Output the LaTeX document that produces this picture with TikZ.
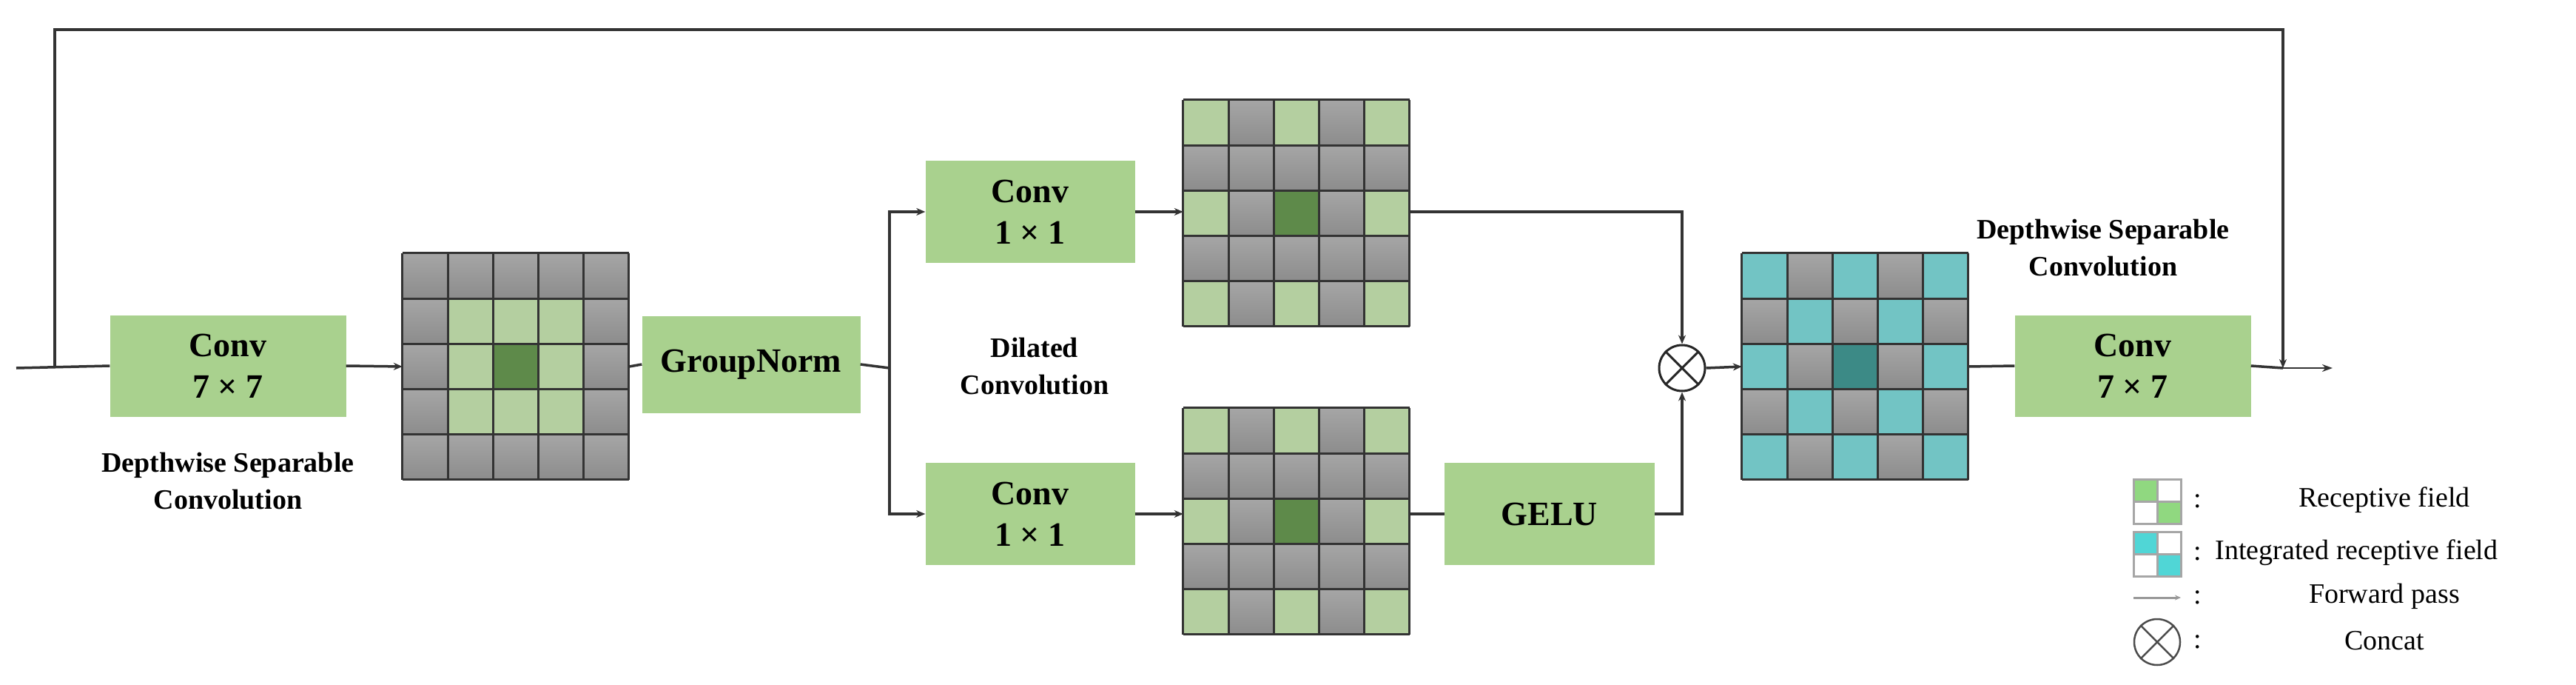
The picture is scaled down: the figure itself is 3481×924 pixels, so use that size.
\documentclass[tikz,border=0pt]{standalone}
\usepackage{fontspec}
\setmainfont{Liberation Serif}[BoldFont={Liberation Serif Bold},ItalicFont={Liberation Serif Italic}]
\usetikzlibrary{arrows.meta,calc}
\definecolor{boxgreen}{HTML}{A9D18E}
\definecolor{lgreen}{HTML}{B4CFA0}
\definecolor{dgreen}{HTML}{5E8A4A}
\definecolor{lteal}{HTML}{72C4C4}
\definecolor{dteal}{HTML}{3C8A86}
\tikzset{
  blk/.style={fill=boxgreen,draw=none,minimum width=#1,inner sep=0pt,font=\rmfamily\bfseries\fontsize{46}{56}\selectfont,align=center},
  lbl/.style={font=\rmfamily\bfseries\fontsize{38}{50}\selectfont,align=center},
  leg/.style={font=\rmfamily\fontsize{38}{46}\selectfont},
  ln/.style={line width=3.5pt,draw=black!80},
  arr/.style={ln,-{Stealth[length=12pt,width=10pt]}},
  gridbox/.style={minimum width=306pt,minimum height=306pt,inner sep=0pt,draw=none},
}
\newcommand\mkgrid[4]{%
  \foreach \c in {0,...,4}{\foreach \r in {0,...,4}{
    \fill[top color=gray!70,bottom color=gray!90] ($(#1.north west)+(\c*61.2pt,-\r*61.2pt)$) rectangle ++(61.2pt,-61.2pt);}}
  \foreach \c/\r in {#2}{
    \fill[#3] ($(#1.north west)+(\c*61.2pt,-\r*61.2pt)$) rectangle ++(61.2pt,-61.2pt);}
  \fill[#4] ($(#1.north west)+(2*61.2pt,-2*61.2pt)$) rectangle ++(61.2pt,-61.2pt);
  \foreach \i in {0,...,5}{
    \draw[black!80,line width=3pt] ($(#1.north west)+(\i*61.2pt,0)$) -- ++(0,-306pt);
    \draw[black!80,line width=3pt] ($(#1.north west)+(0,-\i*61.2pt)$) -- ++(306pt,0);}
}
\begin{document}
\begin{tikzpicture}[x=1pt,y=-1pt]
\useasboundingbox (0,0) rectangle (3481,924);
\coordinate (in) at (22,497);
\coordinate (split) at (74,497);
\node[blk=319pt,minimum height=137pt] (c7a) at (308,494) {Conv\\7 × 7};
\node[gridbox] (g1) at (697,495) {};
\node[blk=295pt,minimum height=131pt] (gn) at (1015,492) {GroupNorm};
\coordinate (br) at (1202,497);
\node[blk=283pt,minimum height=138pt] (c1u) at (1392,286) {Conv\\1 × 1};
\node[blk=283pt,minimum height=138pt] (c1l) at (1392,694) {Conv\\1 × 1};
\node[gridbox] (gu) at (1752,288) {};
\node[gridbox] (gl) at (1752,704) {};
\node[blk=284pt,minimum height=138pt] (gelu) at (2094,694) {GELU};
\node[circle,draw=black!85,line width=3pt,minimum size=62pt,inner sep=0pt] (cat) at (2273,497) {};
\draw[black!85,line width=3pt] (cat.north west)--(cat.south east) (cat.north east)--(cat.south west);
\node[gridbox] (gt) at (2507,495) {};
\node[blk=319pt,minimum height=137pt] (c7b) at (2882,494) {Conv\\7 × 7};
\coordinate (join) at (3085,497);
\coordinate (out) at (3152,497);
\mkgrid{g1}{1/1,2/1,3/1,1/2,3/2,1/3,2/3,3/3}{lgreen}{dgreen}
\mkgrid{gu}{0/0,2/0,4/0,0/2,4/2,0/4,2/4,4/4}{lgreen}{dgreen}
\mkgrid{gl}{0/0,2/0,4/0,0/2,4/2,0/4,2/4,4/4}{lgreen}{dgreen}
\mkgrid{gt}{0/0,2/0,4/0,1/1,3/1,0/2,4/2,1/3,3/3,0/4,2/4,4/4}{lteal}{dteal}
\node[lbl] (t1) at (308,650) {Depthwise Separable\\Convolution};
\node[lbl] (t2) at (1398,495) {Dilated\\Convolution};
\node[lbl] (t3) at (2842,335) {Depthwise Separable\\Convolution};
\draw[ln] (in) -- (c7a.west);
\draw[arr] (c7a.east) -- (g1.west);
\draw[ln] (g1.east) -- (gn.west);
\draw[ln] (gn.east) -- (br);
\draw[arr] (br) |- (c1u.west);
\draw[arr] (br) |- (c1l.west);
\draw[arr] (c1u.east) -- (c1u.east -| gu.west);
\draw[arr] (c1l.east) -- (c1l.east -| gl.west);
\draw[ln] (gl.east |- gelu.west) -- (gelu.west);
\draw[arr] (gu.east |- c1u.east) -| (cat.north);
\draw[arr] (gelu.east) -| (cat.south);
\draw[arr] (cat.east) -- (gt.west);
\draw[ln] (gt.east) -- (c7b.west);
\draw[ln] (c7b.east) -- (join);
\draw[-{Stealth[length=14pt,width=10pt]},line width=2.5pt,black!80] (join) -- (out);
\draw[arr] (split) -- (74,40) -- (3085,40) -- (join);
\coordinate (L1) at (2883,647);
\fill[lgreen!80!green] (L1) rectangle ++(32,30);
\fill[lgreen!80!green] ($(L1)+(32,30)$) rectangle ++(32,30);
\draw[gray!70,line width=3pt] (L1) rectangle ++(64,60) ($(L1)+(32,0)$) -- ++(0,60) ($(L1)+(0,30)$) -- ++(64,0);
\coordinate (L2) at (2883,718);
\fill[lteal!70!cyan] (L2) rectangle ++(32,30);
\fill[lteal!70!cyan] ($(L2)+(32,30)$) rectangle ++(32,30);
\draw[gray!70,line width=3pt] (L2) rectangle ++(64,60) ($(L2)+(32,0)$) -- ++(0,60) ($(L2)+(0,30)$) -- ++(64,0);
\coordinate (L3a) at (2883,807); \coordinate (L3b) at (2947,807);
\draw[gray!80,line width=3pt,-{Stealth[length=8pt,width=7pt]}] (L3a) -- (L3b);
\node[circle,draw=black!70,line width=2.5pt,minimum size=62pt,inner sep=0pt] (L4) at (2915,867) {};
\draw[black!70,line width=2.5pt] (L4.north west)--(L4.south east) (L4.north east)--(L4.south west);
\foreach \y/\n in {677/a,748/b,807/c,867/d}{\node[leg] (col\n) at (2970,\y) {:};}
\node[leg] (r1) at (3222,675) {Receptive field};
\node[leg,anchor=west] (r2) at (2990,746) {Integrated receptive field};
\node[leg] (r3) at (3222,805) {Forward pass};
\node[leg] (r4) at (3222,865) {Concat};
\end{tikzpicture}
\end{document}
